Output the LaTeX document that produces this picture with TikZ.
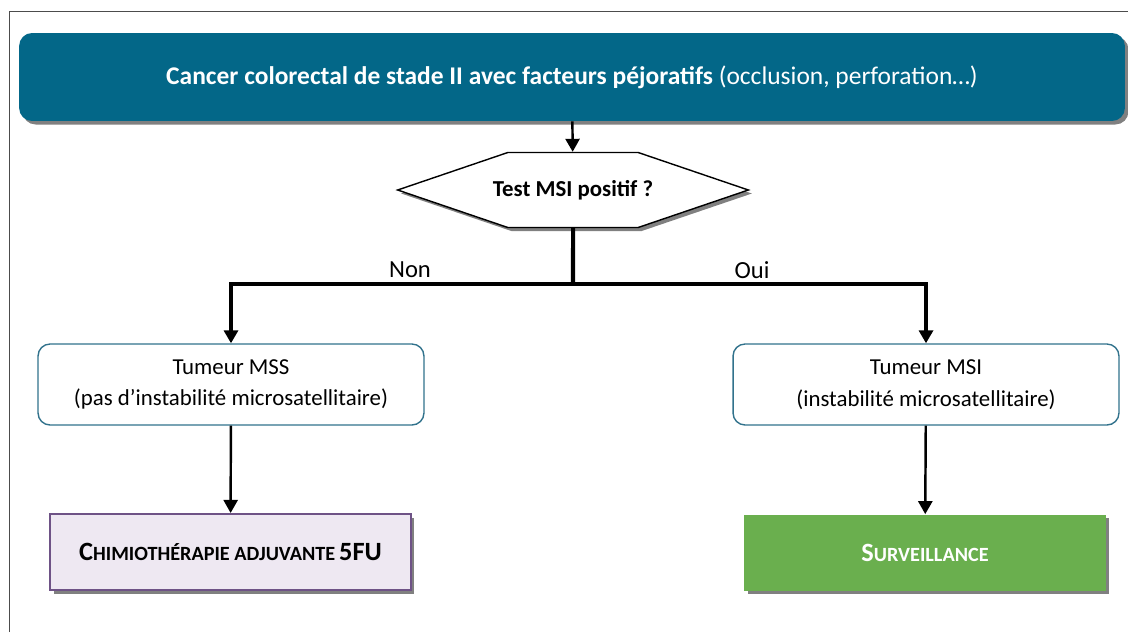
\documentclass[tikz,border=0pt]{standalone}
\usepackage{fontspec}
\setmainfont{Carlito}
\usepackage{tikz}
\usetikzlibrary{arrows.meta,shapes.symbols,shadows}

\definecolor{teal}{RGB}{3,103,136}
\definecolor{tealline}{RGB}{49,114,140}
\definecolor{lilac}{RGB}{238,232,242}
\definecolor{plum}{RGB}{110,82,134}
\definecolor{leaf}{RGB}{106,175,78}

\newcommand{\fsc}[2]{{\fontsize{15}{17}\selectfont #1}{\fontsize{11.5}{13}\selectfont #2}}

\begin{document}
\begin{tikzpicture}[x=0.02cm, y=-0.02cm,
  shade/.style={drop shadow={shadow xshift=2pt, shadow yshift=-2pt, fill=black!50, opacity=1}},
  titlebox/.style={rectangle, rounded corners=0.26cm, fill=teal, text=white, shade,
    minimum width=22.12cm, minimum height=1.76cm, font=\bfseries\fontsize{14.5}{17}\selectfont},
  testbox/.style={signal, signal to=east and west, signal pointer angle=37.6, draw, thick, fill=white, shade,
    minimum height=1.5cm, inner ysep=0pt, inner xsep=-0.3cm, font=\bfseries\fontsize{13}{15}\selectfont},
  tumbox/.style={rectangle, rounded corners=0.24cm, draw=tealline, thick, fill=white,
    minimum width=7.72cm, minimum height=1.62cm, align=center, font=\fontsize{13}{18}\selectfont},
  endbox/.style={rectangle, shade, minimum height=1.52cm, font=\bfseries},
  link/.style={line width=1.4pt, -{Triangle[width=0.28cm, length=0.26cm]}},
  branch/.style={line width=2.3pt}
]
\useasboundingbox (0,0) rectangle (1128,632);
\draw[black!70, thin] (9,632) -- (9,11) -- (1128,11);

\node[titlebox] (cancer) at (572,77) {Cancer colorectal de stade II avec facteurs péjoratifs \mdseries(occlusion, perforation…)};
\node[testbox] (test) at (573,190) {Test MSI positif ?};
\coordinate (split) at (573,284);

\node[tumbox] (mss) at (231,384.5) {Tumeur MSS\\(pas d’instabilité microsatellitaire)};
\node[tumbox] (msi) at (926,384.5) {Tumeur MSI\\(instabilité microsatellitaire)};

\node[endbox, draw=plum, line width=1.2pt, fill=lilac, minimum width=7.22cm] (chimio) at (230.5,552)
  {\fsc{C}{HIMIOTHÉRAPIE ADJUVANTE} {\fontsize{15}{17}\selectfont 5FU}};
\node[endbox, fill=leaf, text=white, minimum width=7.24cm] (surv) at (925,552.5)
  {\fsc{S}{URVEILLANCE}};

\node[font=\fontsize{14}{16}\selectfont] (non) at (410,270) {Non};
\node[font=\fontsize{14}{16}\selectfont] (oui) at (752,270) {Oui};

% connectors
\draw[link] (cancer) -- (test);
\draw[branch] (test) -- (split);
\draw[branch, -{Triangle[width=0.28cm, length=0.26cm]}] (split) -| (mss);
\draw[branch, -{Triangle[width=0.28cm, length=0.26cm]}] (split) -| (msi);
\draw[link] (mss) -- (chimio);
\draw[link] (msi) -- (surv);
\end{tikzpicture}
\end{document}
